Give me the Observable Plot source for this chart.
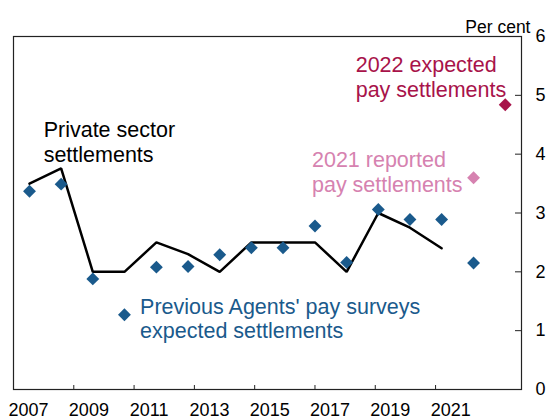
<!DOCTYPE html>
<html>
<head>
<meta charset="utf-8">
<script src="https://cdn.jsdelivr.net/npm/d3@7"></script>
<script src="https://cdn.jsdelivr.net/npm/@observablehq/plot@0.6"></script>
<style>
  html, body { margin: 0; padding: 0; background: #fff; }
  #chart { width: 549px; height: 420px; }
</style>
</head>
<body>
<div id="chart"></div>
<script>
// Survey dates (decimal years) for each annual Agents' pay survey
const surveyDates = [2007.53, 2008.58, 2009.63, 2010.68, 2011.74, 2012.79, 2013.84, 2014.89,
                     2015.94, 2017.00, 2018.05, 2019.10, 2020.15, 2021.20, 2022.26];
// Previous Agents' pay surveys: expected settlements (per cent)
const expectedSettlements = [3.37, 3.49, 1.88, 1.27, 2.08, 2.09, 2.29, 2.41,
                             2.41, 2.78, 2.16, 3.06, 2.89, 2.89, 2.15];
// Private sector settlements (per cent)
const privateDates = [2007.53, 2008.58, 2009.63, 2010.68, 2011.74, 2012.79, 2013.84, 2014.89,
                      2015.94, 2017.00, 2018.05, 2019.10, 2020.15, 2021.20];
const privateSettlements = [3.5, 3.76, 2.0, 2.0, 2.5, 2.3, 2.0, 2.5,
                            2.5, 2.5, 2.0, 3.0, 2.75, 2.4];
// 2021 reported pay settlements
const reported2021Date = [2022.26];
const reported2021Value = [3.6];
// 2022 expected pay settlements
const expected2022Date = [2023.31];
const expected2022Value = [4.84];

const xDomain = [2007, 2023.85];
const yDomain = [0, 6];
const xTicks = [2009, 2011, 2013, 2015, 2017, 2019, 2021];
const xLabelYears = [2007, 2009, 2011, 2013, 2015, 2017, 2019, 2021];
const yTicks = [0, 1, 2, 3, 4, 5, 6];

const BLUE = "#1a5a8c";
const PINK = "#d682b0";
const RED = "#a8134a";
const FONT = "'Liberation Sans', Arial, Helvetica, sans-serif";

const annotations = [
  {x: 2008.0, y: 4.58, text: "Private sector\nsettlements", color: "#000"},
  {x: 2011.2, y: 1.58, text: "Previous Agents' pay surveys\nexpected settlements", color: BLUE},
  {x: 2016.9, y: 4.07, text: "2021 reported\npay settlements", color: PINK},
  {x: 2018.35, y: 5.69, text: "2022 expected\npay settlements", color: RED}
];

const blueData = surveyDates.map((d, i) => ({x: d, y: expectedSettlements[i]}));
const lineData = privateDates.map((d, i) => ({x: d, y: privateSettlements[i]}));
const pinkData = reported2021Date.map((d, i) => ({x: d, y: reported2021Value[i]}));
const redData = expected2022Date.map((d, i) => ({x: d, y: expected2022Value[i]}));

const plot = Plot.plot({
  width: 549,
  height: 420,
  marginLeft: 13,
  marginRight: 28,
  marginTop: 36,
  marginBottom: 31,
  style: {fontFamily: FONT, background: "#fff", overflow: "visible"},
  x: {domain: xDomain},
  y: {domain: yDomain},
  marks: [
    Plot.frame({stroke: "#222", strokeWidth: 1.2}),
    // x ticks (inside, from bottom)
    Plot.ruleX(xTicks, {x: d => d, insetTop: 349, stroke: "#222", strokeWidth: 1}),
    // y ticks (inside, on right)
    Plot.ruleY(yTicks.slice(1, 6), {y: d => d, insetLeft: 502, stroke: "#222", strokeWidth: 1}),
    Plot.axisX({
      ticks: xLabelYears.map(d => d + 0.5),
      tickSize: 0,
      tickPadding: 14,
      tickFormat: d => String(Math.floor(d)),
      fontSize: 18,
      fill: "#000",
      label: null
    }),
    Plot.axisY({
      anchor: "right",
      ticks: yTicks,
      tickSize: 0,
      tickPadding: 14,
      tickFormat: d => String(d),
      fontSize: 18,
      fill: "#000",
      label: null
    }),
    Plot.text(["Per cent"], {
      frameAnchor: "top-right", dx: 9, dy: -16, text: d => d,
      fontSize: 17.5, fill: "#000", textAnchor: "end"
    }),
    Plot.line(lineData, {x: "x", y: "y", stroke: "#000", strokeWidth: 2.5, strokeLinejoin: "miter"}),
    Plot.dot(blueData, {x: "x", y: "y", symbol: "diamond2", r: 5.8, fill: BLUE, stroke: "none"}),
    Plot.dot(pinkData, {x: "x", y: "y", symbol: "diamond2", r: 5.8, fill: PINK, stroke: "none"}),
    Plot.dot(redData, {x: "x", y: "y", symbol: "diamond2", r: 5.8, fill: RED, stroke: "none"}),
    Plot.text(annotations, {
      x: "x", y: "y", text: "text", fill: "color",
      textAnchor: "start", lineAnchor: "top", fontSize: 21.5, lineHeight: 1.14
    })
  ]
});

document.getElementById("chart").appendChild(plot);
</script>
</body>
</html>
